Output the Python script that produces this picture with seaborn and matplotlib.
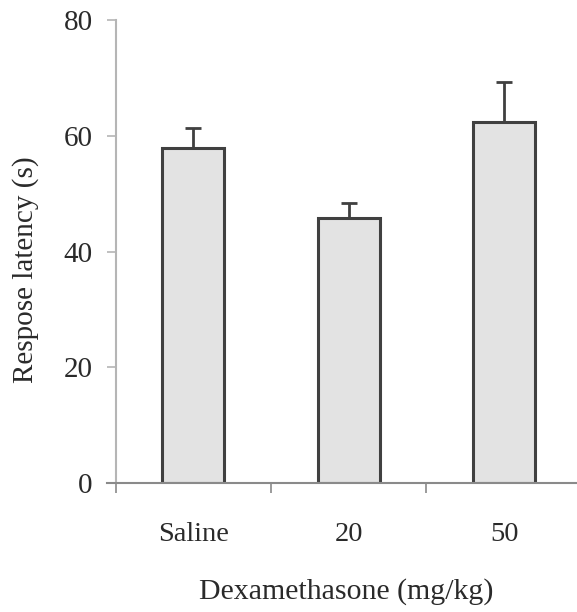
import matplotlib
matplotlib.use("Agg")
import matplotlib.pyplot as plt
import seaborn as sns
import pandas as pd
from matplotlib.ticker import FixedLocator

# Response latency by dexamethasone dose (mean + SEM)
groups = ["Saline", "20", "50"]
latency = [57.9, 45.8, 62.3]
sem = [3.4, 2.6, 7.0]

df = pd.DataFrame({"group": groups, "latency": latency})

sns.set_theme(style="white")
plt.rcParams["font.family"] = ["Liberation Serif", "DejaVu Serif"]

fig = plt.figure(figsize=(5.77, 6.12), dpi=100)
ax = fig.add_axes([0.1854, 0.2108, 0.8146, 0.7565])

bar_fill = "#e3e3e3"
ink = "#404040"

sns.barplot(data=df, x="group", y="latency", order=groups, width=0.4,
            color=bar_fill, edgecolor=ink, linewidth=2.2, errorbar=None,
            saturation=1, ax=ax)

# upper-only error bars
ax.errorbar(range(len(groups)), latency, yerr=[[0] * len(sem), sem],
            fmt="none", ecolor=ink, elinewidth=2.0, capsize=5.6, capthick=2.0,
            zorder=1)

ax.set_xlim(-0.555, 2.468)
ax.set_ylim(0, 80)
ax.set_yticks([0, 20, 40, 60, 80])

for side in ("top", "right"):
    ax.spines[side].set_visible(False)
ax.spines["left"].set_position(("data", -0.5))
ax.spines["left"].set_color("#b5b5b5")
ax.spines["left"].set_linewidth(1.5)
ax.spines["bottom"].set_color("#8a8a8a")
ax.spines["bottom"].set_linewidth(1.5)

ax.tick_params(axis="y", which="major", direction="out", length=6.5, width=1.2,
               color="#b5b5b5", pad=10, labelsize=21, labelcolor="#2a2a2a", left=True)
ax.tick_params(axis="x", which="major", length=0, pad=28, labelsize=20.5,
               labelcolor="#2a2a2a")
ax.xaxis.set_minor_locator(FixedLocator([-0.5, 0.5, 1.5, 2.5]))
ax.tick_params(axis="x", which="minor", direction="out", length=7, width=1.2,
               color="#8a8a8a", bottom=True)

ax.set_xlabel("Dexamethasone (mg/kg)", fontsize=21.5, color="#2a2a2a")
ax.set_ylabel("Respose latency (s)", fontsize=21, color="#2a2a2a")
ax.xaxis.set_label_coords(0.51, -0.205)
ax.yaxis.set_label_coords(-0.145, 0.46)

fig.savefig("out.png", dpi=100)
